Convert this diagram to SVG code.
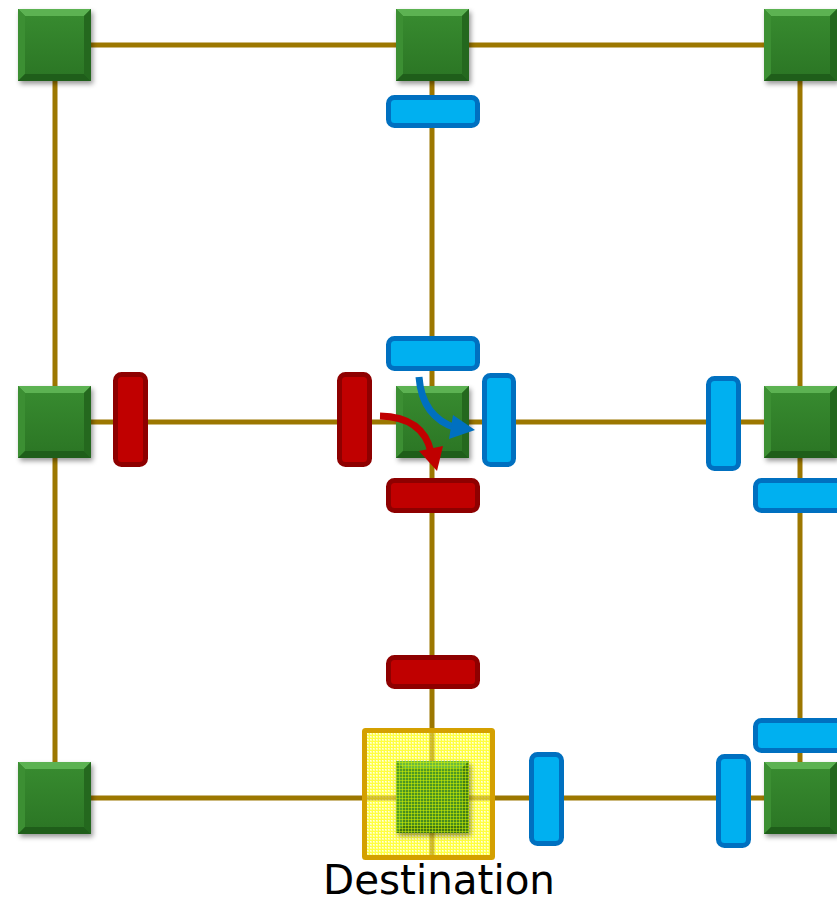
<svg xmlns="http://www.w3.org/2000/svg" xmlns:xlink="http://www.w3.org/1999/xlink" width="837" height="904" viewBox="0 0 837 904">
<style>
.link{stroke:#9C7700;stroke-width:5;fill:none}
.blue{fill:#00B0F0;stroke:#0070C0;stroke-width:5}
.red{fill:#C00000;stroke:#8E0000;stroke-width:5}
.lbl{font-family:"DejaVu Sans",Verdana,sans-serif;font-size:41px;fill:#000}
</style>
<defs>
<filter id="sh" x="-20%" y="-20%" width="150%" height="150%">
<feDropShadow dx="2" dy="3" stdDeviation="2.5" flood-color="#000" flood-opacity="0.4"/>
</filter>
<linearGradient id="gface" x1="0" y1="0" x2="0" y2="1">
<stop offset="0" stop-color="#378A2F"/>
<stop offset="1" stop-color="#2C7725"/>
</linearGradient>
<g id="nodeShape">
<rect x="0" y="0" width="73" height="72" fill="#2D7A26" filter="url(#sh)"/>
<polygon points="0,0 73,0 66,7 7,7" fill="#5CB252"/>
<polygon points="0,0 7,7 7,65 0,72" fill="#3C8F33"/>
<polygon points="73,0 73,72 66,65 66,7" fill="#24681E"/>
<polygon points="0,72 7,65 66,65 73,72" fill="#1F5E1A"/>
<rect x="7" y="7" width="59" height="58" fill="url(#gface)"/>
</g>
<pattern id="grid" width="3" height="3" patternUnits="userSpaceOnUse">
<rect width="3" height="3" fill="#FFFF9A"/>
<rect width="3" height="1" fill="#FFFF40"/>
<rect width="1" height="3" fill="#FFFF40"/>
<rect x="1" y="1" width="1" height="1" fill="#FFFFE0"/>
</pattern>
<pattern id="grid2" width="3" height="3" patternUnits="userSpaceOnUse">
<rect width="3" height="1" fill="#E8FF00" fill-opacity="0.5"/>
<rect width="1" height="3" fill="#E8FF00" fill-opacity="0.5"/>
<rect width="3" height="3" fill="#A0D000" fill-opacity="0.22"/>
</pattern>
</defs>
<rect width="837" height="904" fill="#FFFFFF"/>
<g id="connectors">
<line class="link" x1="55" y1="45" x2="800" y2="45"/>
<line class="link" x1="55" y1="422" x2="800" y2="422"/>
<line class="link" x1="55" y1="798" x2="800" y2="798"/>
<line class="link" x1="55" y1="45" x2="55" y2="798"/>
<line class="link" x1="432" y1="45" x2="432" y2="798"/>
<line class="link" x1="800" y1="45" x2="800" y2="798"/>
</g>
<g id="n00" transform="translate(18,9)"><use xlink:href="#nodeShape"/></g>
<g id="n01" transform="translate(396,9)"><use xlink:href="#nodeShape"/></g>
<g id="n02" transform="translate(764,9)"><use xlink:href="#nodeShape"/></g>
<g id="n10" transform="translate(18,386)"><use xlink:href="#nodeShape"/></g>
<g id="n11" transform="translate(396,386)"><use xlink:href="#nodeShape"/></g>
<g id="n12" transform="translate(764,386)"><use xlink:href="#nodeShape"/></g>
<g id="n20" transform="translate(18,762)"><use xlink:href="#nodeShape"/></g>
<g id="n22" transform="translate(764,762)"><use xlink:href="#nodeShape"/></g>
<g id="buffers">
<rect id="b1" class="blue" x="388.5" y="97.5" width="89" height="28" rx="6"/>
<rect id="b2" class="blue" x="388.5" y="338.5" width="89" height="30" rx="6"/>
<rect id="b3" class="blue" x="484.5" y="375.5" width="29" height="89" rx="6"/>
<rect id="b4" class="blue" x="708.5" y="378.5" width="30" height="90" rx="6"/>
<rect id="b5" class="blue" x="755.5" y="480.5" width="90" height="30" rx="6"/>
<rect id="b6" class="blue" x="755.5" y="720.5" width="90" height="30" rx="6"/>
<rect id="b7" class="blue" x="718.5" y="756.5" width="30" height="89" rx="6"/>
<rect id="b8" class="blue" x="531.5" y="754.5" width="30" height="89" rx="6"/>
<rect id="r1" class="red" x="115.5" y="374.5" width="30" height="90" rx="6"/>
<rect id="r2" class="red" x="339.5" y="374.5" width="30" height="90" rx="6"/>
<rect id="r3" class="red" x="388.5" y="480.5" width="89" height="30" rx="6"/>
<rect id="r4" class="red" x="388.5" y="657.5" width="89" height="29" rx="6"/>
</g>
<g id="arrows">
<path d="M419,377 Q422,417 456,428" fill="none" stroke="#0070C0" stroke-width="7"/>
<polygon points="453,415 475,430 449,439" fill="#0070C0"/>
<path d="M380,416 Q423,417 431,452" fill="none" stroke="#C00000" stroke-width="7"/>
<polygon points="419,451 437,471 443,446" fill="#C00000"/>
</g>
<g id="destination">
<rect x="364.5" y="730.5" width="128" height="127" fill="url(#grid)"/>
<line x1="364" y1="798" x2="493" y2="798" stroke="#B09000" stroke-width="5" stroke-opacity="0.55"/>
<line x1="432" y1="730" x2="432" y2="858" stroke="#B09000" stroke-width="5" stroke-opacity="0.6"/>
<g id="n21" transform="translate(396,761)"><use xlink:href="#nodeShape"/></g>
<rect x="396" y="761" width="73" height="72" fill="url(#grid2)"/>
<rect x="364.5" y="730.5" width="128" height="127" fill="none" stroke="#D4A000" stroke-width="5" rx="1"/>
<text class="lbl" x="323" y="894" textLength="232" lengthAdjust="spacingAndGlyphs">Destination</text>
</g>
</svg>
